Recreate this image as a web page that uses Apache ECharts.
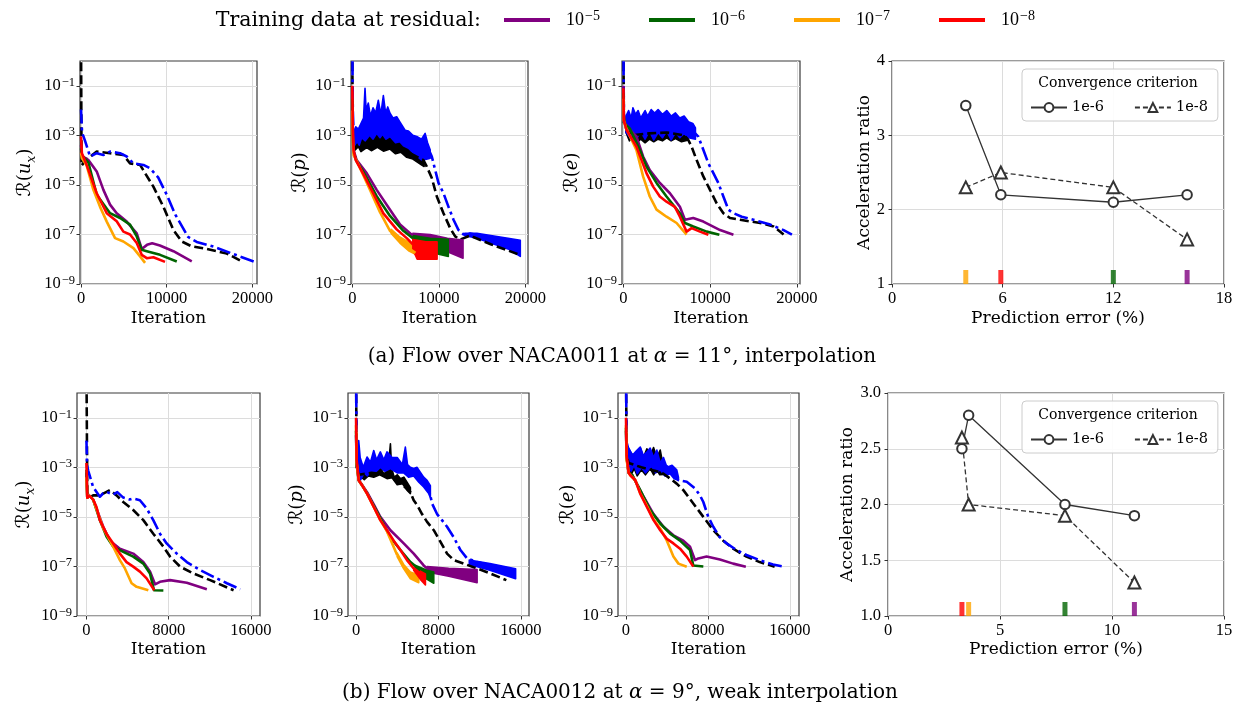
<!DOCTYPE html>
<html><head><meta charset="utf-8">
<script src="https://cdn.jsdelivr.net/npm/echarts@6/dist/echarts.min.js"></script>
<style>html,body{margin:0;padding:0;background:#fff}#c{width:1239px;height:710px}</style>
</head><body><div id="c"></div>
<script>
// ---------------- tick labels ----------------
const xTicksA = [0, 10000, 20000];
const xTicksB = [0, 8000, 16000];
const yTicksRes = [1e-9, 1e-7, 1e-5, 1e-3, 1e-1];

// ---------------- (a) top row: R(u_x) ----------------
const uxA_k = [[0,10],[60,6e-5],[660,1.1e-4],[1830,2.2e-4],[3385,1.9e-4],[4940,1.6e-4],[5720,7.4e-5],[6890,6.4e-5],[7470,3e-5],[8440,8.5e-6],[9610,1.3e-6],[10780,1.5e-7],[11750,5.2e-8],[12920,3.3e-8],[14670,2.6e-8],[17000,1.7e-8],[18560,8.9e-9]];
const uxA_b = [[0,1.1e-2],[120,1.3e-3],[470,6e-4],[1050,1.4e-4],[1830,1.9e-4],[2600,1.6e-4],[3385,2.2e-4],[4550,1.9e-4],[5330,1.4e-4],[6110,7.4e-5],[7280,6.4e-5],[8050,4.7e-5],[9000,2e-5],[10000,4e-6],[11000,6.3e-7],[12500,7.9e-8],[13500,5e-8],[15500,3.2e-8],[17800,1.6e-8],[20200,7.9e-9]];
const uxA_pu = [[0,4e-4],[100,1.5e-4],[860,1e-4],[1830,3.5e-5],[2610,6.3e-6],[3385,1.6e-6],[4160,7.2e-7],[5330,3.3e-7],[6500,1.1e-7],[7080,2.6e-8],[7700,3.8e-8],[8300,4.4e-8],[9200,3.6e-8],[10780,2.1e-8],[12920,8.1e-9]];
const uxA_gr = [[0,3e-4],[100,1.5e-4],[860,8e-5],[1830,4e-6],[3385,7.2e-7],[4550,4.6e-7],[5720,2.5e-7],[6500,8.3e-8],[7080,2.4e-8],[7670,2.1e-8],[9220,1.5e-8],[11170,8.1e-9]];
const uxA_or = [[0,2e-4],[100,1.2e-4],[660,6e-5],[1440,6.3e-6],[2220,1.3e-6],[3000,3.3e-7],[3970,7.1e-8],[4940,5.2e-8],[6110,2.8e-8],[6890,1.3e-8],[7470,7.1e-9]];
const uxA_rd = [[0,9e-4],[100,1.9e-4],[660,6.3e-5],[1830,4.6e-6],[3000,7.2e-7],[4160,3.4e-7],[4940,1.3e-7],[5720,1e-7],[6500,4.5e-8],[7080,1.5e-8],[7670,1.1e-8],[8440,1.2e-8],[9800,7.8e-9]];

// ---------------- (a) top row: R(p) ----------------
const pA_k = [[0,10],[40,1e-3],[300,3.5e-4],[2000,5e-4],[4000,5e-4],[6000,2.5e-4],[8220,1e-4],[8610,5.5e-5],[9190,1.9e-5],[9770,3.4e-6],[10540,7.2e-7],[11310,1.8e-7],[11890,8.3e-8],[12470,6.2e-8],[13600,9e-8],[16000,4e-8],[19400,1.5e-8]];
const pA_kUp = [[300,6e-4],[600,1.1e-3],[800,5e-4],[1100,1.3e-3],[1400,6e-4],[1660,1.5e-3],[1900,7e-4],[2200,1.8e-3],[2430,8e-4],[2700,1.6e-3],[3000,9e-4],[3300,2.2e-3],[3590,1e-3],[3900,1.8e-3],[4200,8e-4],[4500,1.4e-3],[4800,6e-4],[5200,1e-3],[5600,4.5e-4],[6000,6.3e-4],[6300,3e-4],[6700,4e-4],[7200,2e-4],[7840,2e-4],[8300,1.2e-4]];
const pA_kLo = [[300,2.5e-4],[700,3.5e-4],[1000,2.2e-4],[1660,3.2e-4],[2200,2.4e-4],[2900,3.3e-4],[3600,2.3e-4],[4360,2.8e-4],[5000,1.8e-4],[5600,2.1e-4],[6290,1.3e-4],[7000,1.1e-4],[8030,6.3e-5],[8300,5.5e-5]];
const pA_b = [[0,10],[60,1e-2],[200,4e-4],[1500,2e-3],[3500,3e-3],[5500,1.5e-3],[7500,5e-4],[8600,4e-4],[9190,1.4e-4],[9580,4e-5],[9960,1.2e-5],[10540,4.6e-6],[11120,1.3e-6],[11700,3.9e-7],[12280,1.5e-7],[12860,1e-7],[13630,1.1e-7],[16000,7e-8],[19420,4e-8]];
const pA_bUp = [[200,1.5e-3],[400,2.2e-3],[700,1.8e-3],[1000,3e-3],[1300,5e-3],[1470,7.9e-2],[1600,1e-2],[1850,2e-2],[2100,6e-3],[2400,1.3e-2],[2700,8e-3],[3010,2.6e-2],[3300,7e-3],[3590,4e-2],[3850,8e-3],[4100,1.4e-2],[4360,7.8e-3],[4700,5e-3],[5130,5.6e-3],[5500,3.5e-3],[6100,1.6e-3],[6500,1.5e-3],[7000,1e-3],[7450,9e-4],[8000,7e-4],[8420,1.2e-3],[8700,5e-4],[9000,2.6e-4]];
const pA_bLo = [[200,3.5e-4],[500,6e-4],[800,4e-4],[1080,8e-4],[1500,6e-4],[2000,1e-3],[2400,7e-4],[2820,1.2e-3],[3200,8e-4],[3500,1.1e-3],[3900,7e-4],[4360,9e-4],[5000,5e-4],[5500,5.5e-4],[5910,3.8e-4],[6500,3e-4],[7070,1.9e-4],[8030,1e-4],[8700,1.1e-4],[9000,1.2e-4]];
const pA_bUp2 = [[13000,1.1e-7],[14400,1.12e-7],[16000,9e-8],[18000,7e-8],[19420,5.8e-8]];
const pA_bLo2 = [[13000,9e-8],[14400,7e-8],[16000,4.5e-8],[18000,2.6e-8],[19420,1.3e-8]];
const pA_pu = [[0,6e-2],[60,1.2e-3],[150,2.5e-4],[500,1e-4],[1660,3e-5],[2820,6.3e-6],[4360,1e-6],[5520,2.5e-7],[6700,1.1e-7],[7000,9e-8]];
const pA_puUp = [[7000,1.1e-7],[9000,1e-7],[11000,7e-8],[12800,6e-8]];
const pA_puLo = [[7000,7.9e-8],[9000,4e-8],[11000,2e-8],[12800,1.1e-8]];
const pA_gr = [[0,3e-2],[60,8e-4],[150,2e-4],[500,9e-5],[1500,2.5e-5],[2820,3.5e-6],[4360,5.6e-7],[5900,1.4e-7],[7000,7e-8]];
const pA_grUp = [[7000,9e-8],[9000,7e-8],[11100,6.3e-8]];
const pA_grLo = [[7000,5.6e-8],[8500,2.5e-8],[10000,1.6e-8],[11100,1.3e-8]];
const pA_or = [[0,1e-2],[60,6e-4],[150,1.6e-4],[600,8e-5],[2050,6.3e-6],[3200,7.9e-7],[4360,1.4e-7],[5500,5.6e-8],[6700,2.5e-8],[7300,1.8e-8]];
const pA_orUp = [[4500,1.6e-7],[5500,7.9e-8],[6500,5e-8],[7300,4e-8]];
const pA_orLo = [[4500,1.1e-7],[5500,4.5e-8],[6500,2.2e-8],[7300,1.6e-8]];
const pA_rd = [[0,1e-1],[60,2e-3],[150,2.5e-4],[400,1e-4],[1270,2.8e-5],[2430,4.5e-6],[3590,7.1e-7],[5130,1.6e-7],[6290,7.1e-8],[7000,4e-8]];
const pA_rdUp = [[7000,6.3e-8],[8500,5e-8],[9800,5e-8]];
const pA_rdLo = [[7000,2.5e-8],[7500,1e-8],[9800,1e-8]];

// ---------------- (a) top row: R(e) ----------------
const eA_k = [[0,10],[60,3e-3],[300,2e-3],[1000,1e-3],[3000,1.2e-3],[5000,1.3e-3],[7000,1e-3],[7480,6.5e-4],[7860,3.5e-4],[8440,1e-4],[9210,2.2e-5],[9980,6.3e-6],[10750,1.8e-6],[11520,7.2e-7],[12290,4.6e-7],[13450,3.9e-7],[15760,2.9e-7],[17300,2.1e-7],[18460,1e-7]];
const eA_kUp = [[300,5e-3],[1000,4e-3],[2000,4.5e-3],[3000,5e-3],[4000,6.3e-3],[5000,5e-3],[6000,4e-3],[7000,3.2e-3],[7400,1.6e-3]];
const eA_kLo = [[300,1.3e-3],[700,6e-4],[1000,8e-4],[1500,5e-4],[2000,7e-4],[2500,5e-4],[3000,7e-4],[3500,5.5e-4],[4000,7e-4],[4500,6e-4],[5000,8e-4],[5500,6e-4],[6000,7.5e-4],[6700,5.5e-4],[7400,6.3e-4]];
const eA_b = [[0,10],[60,5e-3],[300,3e-3],[2000,2.5e-3],[4000,3e-3],[6000,2.5e-3],[8000,1.5e-3],[8630,8.9e-4],[9210,2.6e-4],[9790,7.4e-5],[10370,3e-5],[10940,1.2e-5],[11520,3.4e-6],[12100,1e-6],[12680,7.2e-7],[13640,5.2e-7],[14990,3.9e-7],[16920,2.5e-7],[18460,1.5e-7],[19420,9.8e-8]];
const eA_bUp = [[300,6e-3],[600,1e-2],[900,5e-3],[1100,1.3e-2],[1400,7e-3],[1700,1e-2],[2000,5e-3],[2500,1e-2],[2800,6e-3],[3200,1.1e-2],[3600,8e-3],[4000,1.1e-2],[4500,7e-3],[5000,1e-2],[5500,6e-3],[6000,8e-3],[6500,5e-3],[7000,6e-3],[7500,3.5e-3],[8000,3e-3],[8300,2e-3]];
const eA_bLo = [[300,1.3e-3],[800,8e-4],[1200,1.6e-3],[1500,7e-4],[2000,1.4e-3],[2500,7e-4],[3000,1.5e-3],[3500,6.5e-4],[4000,1.3e-3],[4500,8e-4],[5000,1.5e-3],[5500,6.5e-4],[6000,1.3e-3],[6500,8e-4],[7000,1.2e-3],[7500,8e-4],[8300,7e-4]];
const eA_pu = [[0,1e-1],[50,6e-3],[200,3e-3],[730,1.7e-3],[1500,9e-4],[2270,1.4e-4],[3040,4e-5],[4200,1.2e-5],[5360,4.6e-6],[6510,1.3e-6],[7090,3.9e-7],[8050,4.6e-7],[9210,3.3e-7],[11140,1.5e-7],[12680,9.8e-8]];
const eA_gr = [[0,5e-2],[50,5e-3],[200,2.8e-3],[730,1.9e-3],[1890,2.6e-4],[2660,5.5e-5],[3820,1.2e-5],[4970,3.4e-6],[6510,7.2e-7],[7090,2.9e-7],[8050,2.1e-7],[9600,1.3e-7],[11060,9.8e-8]];
const eA_or = [[0,3e-2],[50,4e-3],[300,2e-3],[1500,2.6e-4],[2270,2.2e-5],[3040,3.4e-6],[3820,1e-6],[4970,5.2e-7],[6130,2.9e-7],[7280,9.8e-8]];
const eA_rd = [[0,8e-2],[50,4e-3],[350,1.7e-3],[1500,3.5e-4],[2660,3e-5],[3430,8.5e-6],[4200,3.4e-6],[4970,2.1e-6],[5930,1.3e-6],[6510,5.2e-7],[7280,1.3e-7],[7860,1.8e-7],[8820,1.3e-7],[9790,9.8e-8]];

// ---------------- (b) bottom row: R(u_x) ----------------
const uxB_k = [[0,10],[80,1e-4],[300,6e-5],[650,7.4e-5],[1300,7.4e-5],[1630,8.7e-5],[2280,1.2e-4],[2930,7.4e-5],[3580,4e-5],[4550,1.9e-5],[5530,7.4e-6],[6500,2.1e-6],[7480,6.3e-7],[8130,2.5e-7],[9110,9.8e-8],[10410,5.2e-8],[12030,2.8e-8],[14310,1.1e-8]];
const uxB_b = [[0,1.2e-2],[60,1.2e-3],[160,7.6e-4],[650,1.6e-4],[1300,6.5e-5],[1630,9e-5],[2000,1e-4],[2600,8e-5],[3000,1e-4],[3580,6e-5],[4200,5e-5],[4550,5.5e-5],[5200,4.7e-5],[5850,2.2e-5],[6500,7.4e-6],[7150,2.1e-6],[7800,8.5e-7],[8780,3.3e-7],[9760,1.5e-7],[11060,7.1e-8],[12360,3.8e-8],[13660,2.1e-8],[14960,1.2e-8]];
const uxB_pu = [[0,6e-4],[80,6e-5],[300,7e-5],[650,5e-5],[1630,4e-6],[2280,1.1e-6],[3250,5.2e-7],[4550,3.3e-7],[5530,1.5e-7],[6180,6.2e-8],[6670,1.9e-8],[7150,2.4e-8],[8130,2.8e-8],[9760,2.2e-8],[11710,1.2e-8]];
const uxB_gr = [[0,8e-4],[80,6e-5],[300,7e-5],[650,5e-5],[1300,7.4e-6],[1950,1.6e-6],[2600,6.3e-7],[3580,3.9e-7],[4550,2.5e-7],[5530,1.3e-7],[6180,5.2e-8],[6570,1.1e-8],[7480,1.07e-8]];
const uxB_or = [[0,4e-4],[80,6e-5],[300,7e-5],[650,5e-5],[1630,3.5e-6],[2600,6.3e-7],[3250,1.8e-7],[3740,8.3e-8],[4390,2.1e-8],[4880,1.5e-8],[6020,1.1e-8]];
const uxB_rd = [[0,1.5e-3],[80,6e-5],[300,7e-5],[650,5e-5],[975,2.5e-5],[1300,7.4e-6],[1950,2.1e-6],[2600,8.5e-7],[3250,3.3e-7],[3900,1.5e-7],[4550,9.8e-8],[5200,6.2e-8],[5850,3.3e-8],[6600,1.1e-8]];

// ---------------- (b) bottom row: R(p) ----------------
const pB_k = [[0,10],[60,1e-3],[260,5e-4],[1500,6e-4],[3000,5e-4],[4500,2e-4],[5280,1e-4],[5600,4.7e-5],[5930,3e-5],[6410,1.3e-5],[6900,6.3e-6],[7550,2.9e-6],[8190,1e-6],[8840,3.3e-7],[9490,1.8e-7],[10460,1.3e-7],[11760,8.3e-8],[13050,5.2e-8],[14600,2.8e-8]];
const pB_kUp = [[260,1e-3],[500,6e-4],[800,9e-4],[1100,6e-4],[1400,1e-3],[1720,1.2e-3],[2000,7e-4],[2400,9e-4],[2700,5.5e-4],[3010,7e-4],[3200,2e-3],[3340,8.9e-3],[3450,1e-3],[3700,4e-4],[4000,5e-4],[4310,3.5e-4],[4650,4e-4],[4950,2.5e-4],[5280,1.5e-4]];
const pB_kLo = [[260,3e-4],[500,4e-4],[800,3.2e-4],[1200,4.5e-4],[1720,4e-4],[2300,5e-4],[3010,3.5e-4],[3500,3.8e-4],[4000,2e-4],[4500,2.2e-4],[4950,1.2e-4],[5280,8.7e-5]];
const pB_b = [[0,10],[60,1e-2],[260,7.6e-4],[1500,1.5e-3],[3000,1.5e-3],[4500,1e-3],[6000,6e-4],[7060,1.5e-4],[7380,3.5e-5],[7870,1.3e-5],[8350,7.4e-6],[8840,4e-6],[9490,1.5e-6],[10140,4.6e-7],[10790,2.1e-7],[11760,1.5e-7],[13050,1.1e-7],[14670,7e-8],[15480,5.2e-8]];
const pB_bUp = [[260,1.2e-2],[400,2.5e-3],[700,1e-3],[1070,2.6e-3],[1400,1.6e-3],[1720,4.8e-3],[2000,2e-3],[2360,4.2e-3],[2700,2e-3],[3010,4.2e-3],[3500,2.5e-3],[4000,2.5e-3],[4500,1.3e-3],[4790,6.6e-3],[5000,1.3e-3],[5280,1e-3],[5600,9e-4],[5930,1e-3],[6570,4e-4],[6900,3e-4],[7220,1.8e-4]];
const pB_bLo = [[260,3e-4],[420,3e-4],[800,6e-4],[1100,4.5e-4],[1390,7e-4],[1800,6e-4],[2360,1e-3],[2800,7e-4],[3340,9e-4],[4000,6e-4],[4630,6e-4],[5100,4e-4],[5600,4.5e-4],[6100,2.5e-4],[6570,1.6e-4],[7060,8.7e-5],[7220,6e-5]];
const pB_bUp2 = [[11000,1.8e-7],[13000,1.3e-7],[15500,8e-8]];
const pB_bLo2 = [[11000,1.2e-7],[13000,7e-8],[15500,3.2e-8]];
const pB_pu = [[0,2e-2],[60,1.5e-3],[260,3e-4],[580,2e-4],[1070,1e-4],[1720,3.2e-5],[2360,1e-5],[3340,2.9e-6],[4630,8.5e-7],[5600,3.3e-7],[6570,1.1e-7],[6900,8.3e-8]];
const pB_puUp = [[6900,1e-7],[9000,8.5e-8],[11760,7.5e-8]];
const pB_puLo = [[6900,6e-8],[9000,4e-8],[11760,2.2e-8]];
const pB_gr = [[0,3e-2],[60,1.5e-3],[260,3e-4],[580,1.9e-4],[1070,9e-5],[1720,2.8e-5],[2360,9e-6],[3340,1.5e-6],[4310,4.6e-7],[5280,1.5e-7],[6250,7e-8]];
const pB_grUp = [[5800,1.1e-7],[6900,7e-8],[7550,6e-8]];
const pB_grLo = [[5800,6e-8],[6900,3e-8],[7550,2.1e-8]];
const pB_or = [[0,5e-2],[60,1.5e-3],[260,3e-4],[580,1.9e-4],[1070,8.7e-5],[1720,2.5e-5],[2360,7.4e-6],[3010,2.6e-6],[3990,2.9e-7]];
const pB_orUp = [[3990,3.5e-7],[4630,1.2e-7],[5280,6e-8],[6090,4.5e-8]];
const pB_orLo = [[3990,2.5e-7],[4630,8e-8],[5280,3.2e-8],[6090,2.2e-8]];
const pB_rd = [[0,1e-1],[60,2e-3],[260,3e-4],[580,1.9e-4],[1070,8.7e-5],[1720,2.5e-5],[2360,7.4e-6],[3010,2.9e-6],[3660,1.1e-6],[4310,4.6e-7],[4950,1.8e-7],[5600,8.3e-8]];
const pB_rdUp = [[5600,9e-8],[6250,6.5e-8],[6740,5e-8]];
const pB_rdLo = [[5600,7e-8],[6250,3e-8],[6740,1.8e-8]];

// ---------------- (b) bottom row: R(e) ----------------
const eB_k = [[0,10],[60,3e-3],[260,1.5e-3],[1500,1e-3],[3000,7e-4],[3660,5.5e-4],[4310,3.5e-4],[4950,2.2e-4],[5600,1.2e-4],[6570,3.5e-5],[7550,1e-5],[8520,2.9e-6],[9490,1.1e-6],[10460,5.2e-7],[11760,2.5e-7],[13050,1.5e-7],[14510,9.8e-8]];
const eB_kUp = [[260,5e-3],[700,3e-3],[1390,6.3e-3],[1700,2.5e-3],[2040,5.6e-3],[2360,2.8e-3],[2690,6.3e-3],[3010,2.5e-3],[3340,5e-3],[3660,1e-3]];
const eB_kLo = [[260,1e-3],[500,5e-4],[800,9e-4],[1100,4.5e-4],[1500,8e-4],[1900,5e-4],[2360,9e-4],[2700,5e-4],[3010,8e-4],[3300,5e-4],[3660,5.2e-4]];
const eB_b = [[0,10],[60,1e-2],[200,6e-3],[1000,1.6e-3],[2500,1.5e-3],[4000,1.1e-3],[5120,3e-4],[5930,2.6e-4],[6740,1.4e-4],[7220,7.4e-5],[7550,4e-5],[8030,1e-5],[8520,4e-6],[9170,1.5e-6],[9820,8.5e-7],[10790,4.6e-7],[11760,2.9e-7],[13050,1.8e-7],[14350,1.2e-7],[15380,9.8e-8]];
const eB_bUp = [[260,6e-3],[600,3e-3],[1000,4.5e-3],[1390,6.6e-3],[1700,3e-3],[2000,4e-3],[2360,6e-3],[2700,2.5e-3],[3010,5e-3],[3340,1.5e-3],[3660,2.5e-3],[4000,1e-3],[4500,1.2e-3],[4950,8e-4],[5120,4e-4]];
const eB_bLo = [[260,1e-3],[500,7e-4],[800,1.2e-3],[1100,5.5e-4],[1500,1e-3],[1900,6e-4],[2500,1.1e-3],[2900,6e-4],[3340,8e-4],[3800,4.5e-4],[4300,5.5e-4],[4700,3.5e-4],[5120,3e-4]];
const eB_pu = [[0,3e-2],[60,2.5e-3],[260,6e-4],[600,5e-4],[1720,6.5e-5],[2690,1.3e-5],[3660,4e-6],[4630,1.8e-6],[5600,1.1e-6],[6250,6.3e-7],[6740,1.8e-7],[7060,2.1e-7],[7870,2.5e-7],[9170,1.9e-7],[10460,1.3e-7],[11700,9.8e-8]];
const eB_gr = [[0,4e-2],[60,2.5e-3],[260,6e-4],[600,5e-4],[1390,1.2e-4],[2360,1.9e-5],[3340,5.4e-6],[4310,2.1e-6],[5280,1.1e-6],[6250,4.6e-7],[6570,1.1e-7],[7550,1e-7]];
const eB_or = [[0,5e-2],[60,2e-3],[260,6e-4],[420,4.8e-4],[910,3e-4],[1390,9e-5],[2040,2.8e-5],[2690,8e-6],[3340,3.4e-6],[3990,1.1e-6],[4630,2.5e-7],[5120,1.3e-7],[5930,9.8e-8]];
const eB_rd = [[0,1e-1],[60,3e-3],[260,6e-4],[420,4.8e-4],[910,3e-4],[1390,8.7e-5],[2040,2.5e-5],[2690,7.4e-6],[3340,2.9e-6],[3990,1.3e-6],[4630,8.5e-7],[5280,5.2e-7],[5930,2.5e-7],[6570,9.8e-8]];

// ---------------- acceleration ratio panels ----------------
const errA = [4.0, 5.9, 12.0, 16.0];
const ratioA_6 = [3.4, 2.2, 2.1, 2.2];
const ratioA_8 = [2.3, 2.5, 2.3, 1.6];
const rugA = [4.0, 5.9, 12.0, 16.0];          // orange, red, green, purple
const errB = [3.3, 3.6, 7.9, 11.0];
const ratioB_6 = [2.5, 2.8, 2.0, 1.9];
const ratioB_8 = [2.6, 2.0, 1.9, 1.3];
const rugB = [3.3, 3.6, 7.9, 11.0];           // red, orange, green, purple
const xTicksErrA = [0, 6, 12, 18];
const xTicksErrB = [0, 5, 10, 15];

// ---------------- styles ----------------
const C = {pu:'#800080', gr:'#006400', or:'#ffa500', rd:'#ff0000', k:'#000000', b:'#0000ff'};
const rugColA = [C.or, C.rd, C.gr, C.pu];
const rugColB = [C.rd, C.or, C.gr, C.pu];
const SERIF = "'DejaVu Serif', serif";
const NUM = "'Liberation Serif', serif";
const GRIDS = [[80,61,177,223],[351,61,177,223],[622,61,178,223],[892,61,332,223],
               [77,393,183,223],[348,393,181,223],[618,393,181,223],[888,393,336,223]];
const XR = [[-120,20530],[-150,20310],[-160,20350],[0,18],[-920,16880],[-780,16800],[-780,16890],[0,15]];

const supRich = {
  b:{fontFamily:NUM, fontSize:16.5, lineHeight:20, color:'#000'},
  s:{fontFamily:NUM, fontSize:12.5, lineHeight:12, verticalAlign:'top', color:'#000', padding:[0,0,0,1]}
};
const nameRich = {
  r:{fontFamily:"'DejaVu Sans', sans-serif", fontSize:19, lineHeight:26, color:'#000'},
  n:{fontFamily:SERIF, fontSize:18, lineHeight:26, color:'#000'},
  i:{fontFamily:SERIF, fontStyle:'italic', fontSize:18, lineHeight:26, color:'#000'},
  sub:{fontFamily:SERIF, fontStyle:'italic', fontSize:12.5, lineHeight:13, verticalAlign:'bottom', color:'#000'}
};
const splitStyle = {show:true, lineStyle:{color:'#dcdcdc', width:1}};
const tickStyle = {lineStyle:{color:'#333', width:1}};

function supFmt(v){ const e = Math.round(Math.log10(v)); return '{b|10}{s|' + (e<0?'\u2212':'') + Math.abs(e) + '}'; }

const grid = GRIDS.map(g => ({left:g[0], top:g[1], width:g[2], height:g[3], show:true, borderColor:'#3a3a3a', borderWidth:1.2, containLabel:false}));

const xAxis = [], yAxis = [];
for (let g=0; g<8; g++){
  const isErr = (g===3 || g===7);
  const xt = isErr ? (g===3 ? xTicksErrA : xTicksErrB) : (g<4 ? xTicksA : xTicksB);
  xAxis.push({
    type:'value', gridIndex:g, min:XR[g][0], max:XR[g][1],
    axisLine:{show:false, onZero:false},
    axisTick:{show:true, length:3.5, customValues:xt, ...tickStyle},
    axisLabel:{customValues:xt, margin:6, fontFamily:NUM, fontSize:16.5, color:'#000', formatter: v => String(v)},
    splitLine:splitStyle,
    name: isErr ? 'Prediction error (%)' : 'Iteration',
    nameLocation:'middle', nameGap: g<4 ? 26 : 25,
    nameTextStyle:{fontFamily:SERIF, fontSize:17, color:'#000'}
  });
}
const resNames = ['{r|\u211B}{n|(}{i|u}{sub|x}{n|)}','{r|\u211B}{n|(}{i|p}{n|)}','{r|\u211B}{n|(}{i|e}{n|)}'];
const yGaps = [42, 38, 37, 0, 39, 38, 37, 0];
for (let g=0; g<8; g++){
  if (g===3 || g===7){
    const top = g===3;
    yAxis.push({
      type:'value', gridIndex:g, min:1, max: top?4:3, interval: top?1:0.5,
      axisLine:{show:false, onZero:false},
      axisTick:{show:true, length:3.5, ...tickStyle},
      axisLabel:{margin:7, fontFamily:NUM, fontSize:16.5, color:'#000', formatter: v => top ? String(v) : v.toFixed(1)},
      splitLine:splitStyle,
      name:'Acceleration ratio', nameLocation:'middle', nameRotate:90, nameGap: top?18:30,
      nameTextStyle:{fontFamily:SERIF, fontSize:17, color:'#000'}
    });
  } else {
    yAxis.push({
      type:'log', logBase:10, gridIndex:g, min:1e-9, max:1,
      axisLine:{show:false, onZero:false},
      axisTick:{show:true, length:3.5, customValues:yTicksRes, ...tickStyle},
      axisLabel:{customValues:yTicksRes, margin:5, formatter:supFmt, rich:supRich},
      splitLine:splitStyle,
      name: resNames[g%4], nameLocation:'middle', nameRotate:90, nameGap:yGaps[g],
      nameTextStyle:{rich:nameRich}
    });
  }
}

function lineS(g, name, color, data, dash, z){
  return {type:'line', name:name, xAxisIndex:g, yAxisIndex:g, data:data, showSymbol:false, symbol:'none',
    clip:true, silent:true, z:z||3, lineStyle:{color:color, width:2.6, type:dash||'solid', cap:'butt', join:'round'},
    itemStyle:{color:color}, emphasis:{disabled:true}};
}
function band(g, color, up, low, z){
  const pts = up.concat(low.slice().reverse());
  return {type:'custom', xAxisIndex:g, yAxisIndex:g, data:pts, silent:true, clip:true, z:z||3,
    renderItem:function(params, api){
      if (params.dataIndex !== 0) return null;
      return {type:'polygon', shape:{points: pts.map(p => api.coord(p))},
              style:{fill:color, stroke:color, lineWidth:1.6, lineJoin:'round'}};
    }};
}
const DASH = [9,4], DASHDOT = [14,4,3,4];

const series = [];
series.push(lineS(0,'r5',C.pu,uxA_pu), lineS(0,'r6',C.gr,uxA_gr), lineS(0,'r7',C.or,uxA_or), lineS(0,'r8',C.rd,uxA_rd));
series.push(lineS(0,'k',C.k,uxA_k,DASH,2), lineS(0,'b',C.b,uxA_b,DASHDOT,2));
series.push(band(1,C.k,pA_kUp,pA_kLo,2), lineS(1,'k',C.k,pA_k,DASH,2),
            band(1,C.b,pA_bUp,pA_bLo,2), band(1,C.b,pA_bUp2,pA_bLo2,2), lineS(1,'b',C.b,pA_b,DASHDOT,2),
            lineS(1,'r5',C.pu,pA_pu), band(1,C.pu,pA_puUp,pA_puLo),
            lineS(1,'r6',C.gr,pA_gr), band(1,C.gr,pA_grUp,pA_grLo),
            lineS(1,'r7',C.or,pA_or), band(1,C.or,pA_orUp,pA_orLo),
            lineS(1,'r8',C.rd,pA_rd), band(1,C.rd,pA_rdUp,pA_rdLo));
series.push(band(2,C.k,eA_kUp,eA_kLo,2), lineS(2,'k',C.k,eA_k,DASH,2),
            band(2,C.b,eA_bUp,eA_bLo,2), lineS(2,'b',C.b,eA_b,DASHDOT,2),
            lineS(2,'r5',C.pu,eA_pu), lineS(2,'r6',C.gr,eA_gr), lineS(2,'r7',C.or,eA_or), lineS(2,'r8',C.rd,eA_rd));
series.push(lineS(4,'k',C.k,uxB_k,DASH,2), lineS(4,'b',C.b,uxB_b,DASHDOT,2),
            lineS(4,'r5',C.pu,uxB_pu), lineS(4,'r6',C.gr,uxB_gr), lineS(4,'r7',C.or,uxB_or), lineS(4,'r8',C.rd,uxB_rd));
series.push(band(5,C.k,pB_kUp,pB_kLo,2), lineS(5,'k',C.k,pB_k,DASH,2),
            band(5,C.b,pB_bUp,pB_bLo,2), band(5,C.b,pB_bUp2,pB_bLo2,2), lineS(5,'b',C.b,pB_b,DASHDOT,2),
            lineS(5,'r5',C.pu,pB_pu), band(5,C.pu,pB_puUp,pB_puLo),
            lineS(5,'r6',C.gr,pB_gr), band(5,C.gr,pB_grUp,pB_grLo),
            lineS(5,'r7',C.or,pB_or), band(5,C.or,pB_orUp,pB_orLo),
            lineS(5,'r8',C.rd,pB_rd), band(5,C.rd,pB_rdUp,pB_rdLo));
series.push(band(6,C.k,eB_kUp,eB_kLo,2), lineS(6,'k',C.k,eB_k,DASH,2),
            band(6,C.b,eB_bUp,eB_bLo,2), lineS(6,'b',C.b,eB_b,DASHDOT,2),
            lineS(6,'r5',C.pu,eB_pu), lineS(6,'r6',C.gr,eB_gr), lineS(6,'r7',C.or,eB_or), lineS(6,'r8',C.rd,eB_rd));

function accLine(g, name, xs, ys, dashed){
  return {type:'line', name:name, xAxisIndex:g, yAxisIndex:g, data: xs.map((x,i)=>[x, ys[i]]),
    symbol: dashed ? 'emptyTriangle' : 'emptyCircle', symbolSize: dashed ? 12 : 9.5, showSymbol:true, clip:false, silent:true, z:5,
    lineStyle:{color:'#333', width:1.3, type: dashed ? [5,3] : 'solid'},
    itemStyle:{color:'#333', borderColor:'#333', borderWidth:2.5}, emphasis:{disabled:true}};
}
function rug(g, xs, cols){
  return {type:'scatter', xAxisIndex:g, yAxisIndex:g, data: xs.map((x,i)=>({value:[x,1], itemStyle:{color:cols[i]}})),
    symbol:'rect', symbolSize:[5,14], symbolOffset:[0,-7], clip:false, silent:true, z:4};
}
series.push(accLine(3,'1e-6',errA,ratioA_6,false), accLine(3,'1e-8',errA,ratioA_8,true), rug(3,rugA,rugColA));
series.push(accLine(7,'1e-6',errB,ratioB_6,false), accLine(7,'1e-8',errB,ratioB_8,true), rug(7,rugB,rugColB));

const legRich = {
  b:{fontFamily:NUM, fontSize:18, lineHeight:22, color:'#000', padding:[0,0,0,11]},
  s:{fontFamily:NUM, fontSize:14, lineHeight:13, verticalAlign:'top', color:'#000', padding:[0,0,0,1]}
};
const legendItems = [['r5',C.pu,504,'5'],['r6',C.gr,649,'6'],['r7',C.or,794,'7'],['r8',C.rd,939,'8']];
const legend = legendItems.map(it => ({
  data:[{name:it[0], itemStyle:{color:it[1]}}], left:it[2], top:9, icon:'rect', itemWidth:46, itemHeight:4,
  selectedMode:false, padding:0, formatter: () => '{b|10}{s|\u2212' + it[3] + '}',
  textStyle:{fontFamily:NUM, fontSize:18, color:'#000', rich:legRich}
}));
[69, 401].forEach(t => legend.push({
  data:['1e-6','1e-8'], left:1022, top:t, padding:[31,10,6,8], itemGap:30, itemWidth:36, itemHeight:11,
  selectedMode:false, backgroundColor:'rgba(255,255,255,0.9)', borderColor:'#cccccc', borderWidth:1, borderRadius:4,
  textStyle:{fontFamily:SERIF, fontSize:14.5, color:'#000'}
}));

const graphic = [
  {type:'text', x:481, y:21, z:100, style:{text:'Training data at residual:', font:"20.5px 'DejaVu Serif'", fill:'#000', align:'right', verticalAlign:'middle'}},
  {type:'text', x:1118, y:83, z:100, style:{text:'Convergence criterion', font:"14px 'DejaVu Serif'", fill:'#000', align:'center', verticalAlign:'middle'}},
  {type:'text', x:1118, y:415, z:100, style:{text:'Convergence criterion', font:"14px 'DejaVu Serif'", fill:'#000', align:'center', verticalAlign:'middle'}},
  {type:'text', x:622, y:357, z:100, style:{text:'{n|(a) Flow over NACA0011 at }{i|\u03B1}{n| = 11\u00B0, interpolation}', align:'center', verticalAlign:'middle',
     rich:{n:{fontFamily:SERIF, fontSize:20, fill:'#000'}, i:{fontFamily:SERIF, fontStyle:'italic', fontSize:20, fill:'#000'}}}},
  {type:'text', x:620, y:693, z:100, style:{text:'{n|(b) Flow over NACA0012 at }{i|\u03B1}{n| = 9\u00B0, weak interpolation}', align:'center', verticalAlign:'middle',
     rich:{n:{fontFamily:SERIF, fontSize:20, fill:'#000'}, i:{fontFamily:SERIF, fontStyle:'italic', fontSize:20, fill:'#000'}}}}
];

const chart = echarts.init(document.getElementById('c'), null, {renderer:'canvas'});
chart.setOption({animation:false, backgroundColor:'#fff', grid, xAxis, yAxis, series, legend, graphic});
</script></body></html>
